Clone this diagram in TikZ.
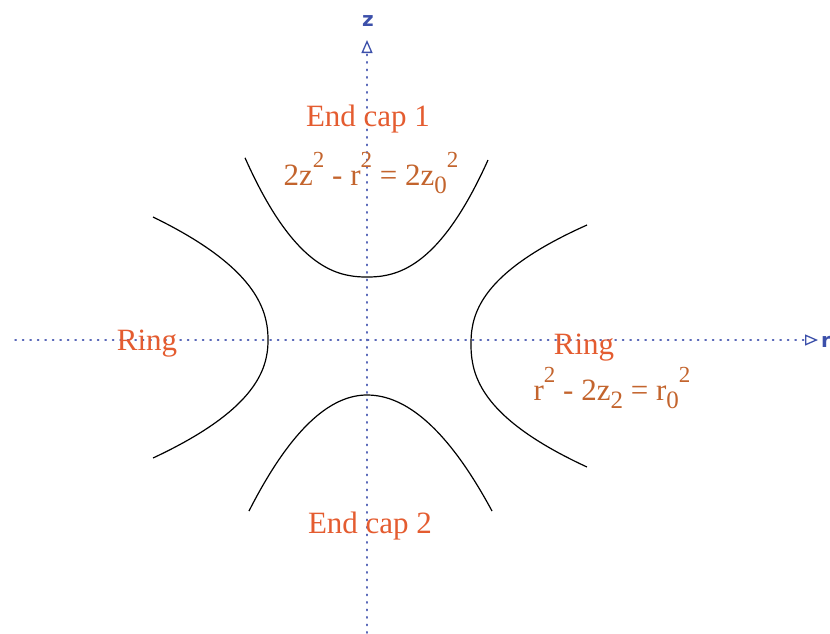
\documentclass[tikz,border=0pt]{standalone}
\usepackage{fontspec}
\setmainfont{Liberation Serif}
\setsansfont{DejaVu Sans}
\usetikzlibrary{arrows.meta}
\definecolor{axisblue}{RGB}{60,80,170}
\definecolor{dotblue}{RGB}{90,105,185}
\definecolor{lblorange}{RGB}{228,92,48}
\definecolor{eqbrown}{RGB}{195,100,45}
\newcommand{\upx}[1]{\raisebox{0.58em}{\fontsize{23}{23}\selectfont #1}}
\newcommand{\dnx}[1]{\raisebox{-0.28em}{\fontsize{25}{25}\selectfont #1}}
\tikzset{
  axis/.style={dotblue, line width=1.5pt, dash pattern=on 1.2pt off 6.3pt, line cap=round,
    -{Triangle[open,length=13pt,width=11pt,line width=1.3pt,color=axisblue]}},
  curve/.style={black, line width=1.2pt},
  lbl/.style={lblorange, font=\fontsize{31}{33}\selectfont, inner sep=0pt, anchor=base},
  eq/.style={eqbrown, font=\fontsize{31}{33}\selectfont, inner sep=0pt, anchor=base},
  axlbl/.style={axisblue, font=\sffamily\bfseries\fontsize{20}{22}\selectfont, inner sep=0pt}
}
\begin{document}
\begin{tikzpicture}[x=1pt,y=-1pt]
\useasboundingbox (0,0) rectangle (830,633);
% axes
\coordinate (zs) at (367,633);
\coordinate (ze) at (367,40);
\coordinate (rs) at (15,340);
\coordinate (re) at (818,340);
\draw[axis] (zs) -- (ze);
\draw[axis] (rs) -- (re);
\node[axlbl] (zl) at (368,21) {z};
\node[axlbl, anchor=west] (rl) at (821,342) {r};
% curves
\draw[curve, domain=-122:121, samples=90, variable=\t] plot ({367+\t}, {277-117*(abs(\t)/121)^2.3});
\draw[curve, domain=-118:125, samples=90, variable=\t] plot ({367+\t}, {395+116*(abs(\t)/ifthenelse(\t<0,118,125))^2});
\draw[curve, domain=-123:118, samples=90, variable=\t] plot ({268-115*(abs(\t)/ifthenelse(\t<0,123,118))^2.2}, {340+\t});
\draw[curve, domain=-119:123, samples=90, variable=\t] plot ({471+116*(abs(\t)/ifthenelse(\t<0,119,123))^2.3}, {344+\t});
% labels
\node[lbl] (ec1) at (368,126) {End cap 1};
\node[eq] (eq1) at (371,185) {2z\upx{2} - r\upx{2} = 2z\dnx{0}\upx{2}};
\node[lbl] (ringl) at (147,350) {Ring};
\node[lbl] (ringr) at (584,354) {Ring};
\node[eq] (eq2) at (612,400) {r\upx{2} - 2z\dnx{2} = r\dnx{0}\upx{2}};
\node[lbl] (ec2) at (370,533) {End cap 2};
\end{tikzpicture}
\end{document}
